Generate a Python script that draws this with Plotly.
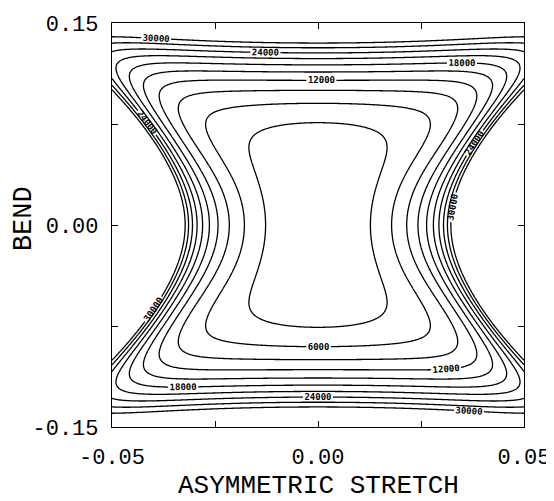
import numpy as np
import plotly.graph_objects as go

# ---- axes / ticks ----
x_range = [-0.05, 0.05]
y_range = [-0.15, 0.15]
x_tickvals = [-0.05, -0.025, 0.0, 0.025, 0.05]
x_ticktext = ["-0.05", "", "0.00", "", "0.05"]
y_tickvals = [-0.15, -0.075, 0.0, 0.075, 0.15]
y_ticktext = ["-0.15", "", "0.00", "", "0.15"]
x_title = "ASYMMETRIC STRETCH"
y_title = "BEND"

# ---- contour levels ----
unlabeled_levels = [3000, 9000, 15000, 21000, 27000]
labeled_levels = [6000, 12000, 18000, 24000, 30000]

# ---- surface model coefficients (fitted to the contour positions) ----
bend_quartic = 9.0e7        # V(0, y) ~ bend_quartic * y^4
bend_soften = 68.0          # bend stiffness softens toward large |x|
stretch_quad = 1.85e7       # asymmetric-stretch quadratic term
stretch_oct = 9.2e15        # asymmetric-stretch steep wall term
coupling_width = 0.059      # wall relaxes with bend (Gaussian width)

x = np.linspace(x_range[0], x_range[1], 301)
y = np.linspace(y_range[0], y_range[1], 451)
X, Y = np.meshgrid(x, y)
Z = (bend_quartic * (1 - bend_soften * X**2) * Y**4
     + (stretch_quad * X**2 + stretch_oct * X**8) * np.exp(-(Y / coupling_width) ** 2))
Z = np.minimum(Z, 80000)

FONT = "Liberation Mono"
LABEL_FONT = dict(family="DejaVu Sans Mono", size=9, color="black", weight="bold")

fig = go.Figure()
fig.add_trace(go.Contour(
    x=x, y=y, z=Z,
    contours=dict(start=unlabeled_levels[0], end=unlabeled_levels[-1],
                  size=unlabeled_levels[1] - unlabeled_levels[0],
                  coloring="none", showlabels=False),
    line=dict(color="black", width=1.3),
    showscale=False, hoverinfo="skip",
))
fig.add_trace(go.Contour(
    x=x, y=y, z=Z,
    contours=dict(start=labeled_levels[0], end=labeled_levels[-1],
                  size=labeled_levels[1] - labeled_levels[0],
                  coloring="none", showlabels=True, labelformat="d",
                  labelfont=LABEL_FONT),
    line=dict(color="black", width=1.3),
    showscale=False, hoverinfo="skip",
))

axis_common = dict(
    showline=True, linecolor="black", linewidth=1.2, mirror="ticks",
    ticks="inside", ticklen=6, tickcolor="black",
    showgrid=False, zeroline=False, automargin=False,
    tickfont=dict(family=FONT, size=22, color="black"),
)
# page body adds an 8 px offset, so the figure is 8 px smaller and shifted
fig.update_layout(
    width=546, height=493,
    margin=dict(l=104, r=30, t=15, b=74),
    paper_bgcolor="white", plot_bgcolor="white",
    showlegend=False,
    xaxis=dict(range=x_range, tickmode="array", tickvals=x_tickvals, ticktext=x_ticktext,
               ticklabelstandoff=9, **axis_common),
    yaxis=dict(range=y_range, tickmode="array", tickvals=y_tickvals, ticktext=y_ticktext,
               ticklabelstandoff=8, **axis_common),
    annotations=[
        dict(text=x_title, xref="paper", yref="paper", x=0.5, y=-0.147,
             xanchor="center", yanchor="middle", showarrow=False,
             font=dict(family=FONT, size=26, color="black")),
        dict(text=y_title, xref="paper", yref="paper", x=-0.2136, y=0.517,
             xanchor="center", yanchor="middle", textangle=-90, showarrow=False,
             font=dict(family=FONT, size=27, color="black")),
    ],
)
fig.write_html("out.html")
